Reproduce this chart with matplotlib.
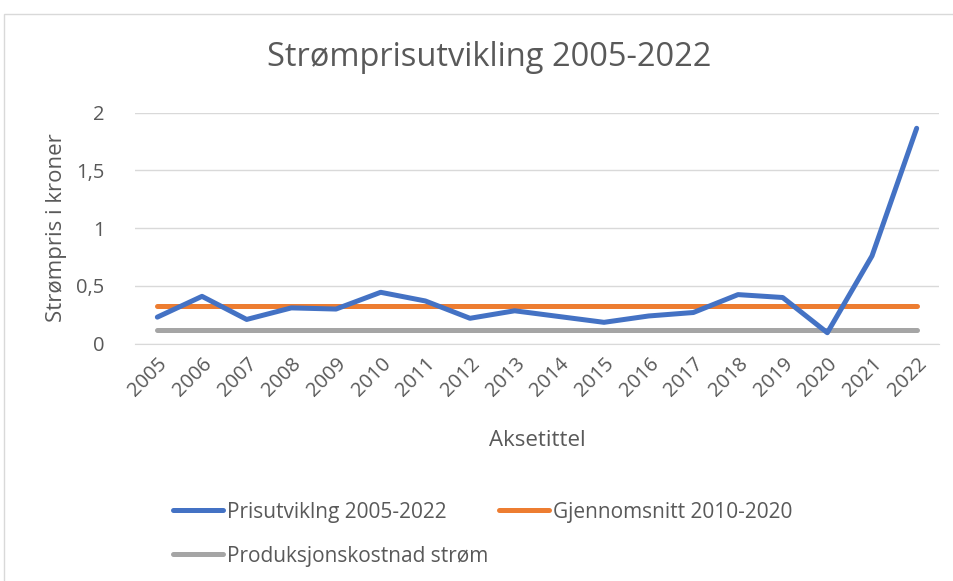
import matplotlib.pyplot as plt
from matplotlib.patches import Rectangle

plt.rcParams['font.family'] = ['Open Sans', 'DejaVu Sans']

years = [str(y) for y in range(2005, 2023)]
pris = [0.23, 0.41, 0.21, 0.31, 0.30, 0.445, 0.37, 0.22, 0.285, 0.235,
        0.185, 0.24, 0.27, 0.425, 0.40, 0.095, 0.76, 1.865]
snitt = [0.33] * len(years)
prod = [0.12] * len(years)

grey = "#595959"

fig = plt.figure(figsize=(9.54, 5.81), dpi=100)
ax = fig.add_axes([135/954, 1 - 343.7/581, 804/954, 231/581])

x = range(len(years))
l1, = ax.plot(x, pris, color="#4472C4", lw=3.6, solid_capstyle="round", solid_joinstyle="round",
              label="Prisutviklng 2005-2022", zorder=3)
l2, = ax.plot(x, snitt, color="#ED7D31", lw=3.6, solid_capstyle="round",
              label="Gjennomsnitt 2010-2020", zorder=2)
l3, = ax.plot(x, prod, color="#A5A5A5", lw=3.6, solid_capstyle="round",
              label="Produksjonskostnad strøm", zorder=2)

ax.set_xlim(-0.5, len(years) - 0.5)
ax.set_ylim(0, 2)
ax.set_yticks([0, 0.5, 1, 1.5, 2])
ax.set_yticklabels(["0", "0,5", "1", "1,5", "2"])
ax.set_xticks(list(x))
ax.set_xticklabels(years, rotation=45, ha="right", rotation_mode="anchor")
ax.grid(axis="y", color="#D9D9D9", lw=1)
ax.set_axisbelow(True)
for s in ax.spines.values():
    s.set_visible(False)
ax.spines["bottom"].set_visible(True)
ax.spines["bottom"].set_color("#D9D9D9")
ax.tick_params(length=0, labelcolor=grey, labelsize=14.5)
ax.tick_params(axis="y", pad=22)
ax.tick_params(axis="x", pad=7)

fig.text(57/954, 1 - 228/581, "Strømpris i kroner", fontsize=16, color=grey,
         rotation=90, ha="center", va="center")
fig.text(537/954, 1 - 440/581, "Aksetittel", fontsize=16, color=grey,
         ha="center", va="center")
fig.text(489/954, 1 - 57/581, "Strømprisutvikling 2005-2022", fontsize=23.5, color=grey,
         ha="center", va="center")

fig.patches.append(Rectangle((4/954, -0.1), 1.2, 1 - 14/581 + 0.1, transform=fig.transFigure,
                             fill=False, edgecolor="#D9D9D9", lw=1))

fig.legend([l1, l3, l2], [l1.get_label(), l3.get_label(), l2.get_label()],
           loc="upper left", bbox_to_anchor=(154/954, 1 - 483/581), ncol=2, frameon=False,
           fontsize=15, labelcolor=grey, handlelength=2.4, handletextpad=0.2,
           columnspacing=0.5, labelspacing=1.1)

fig.savefig("out.png", dpi=100)
